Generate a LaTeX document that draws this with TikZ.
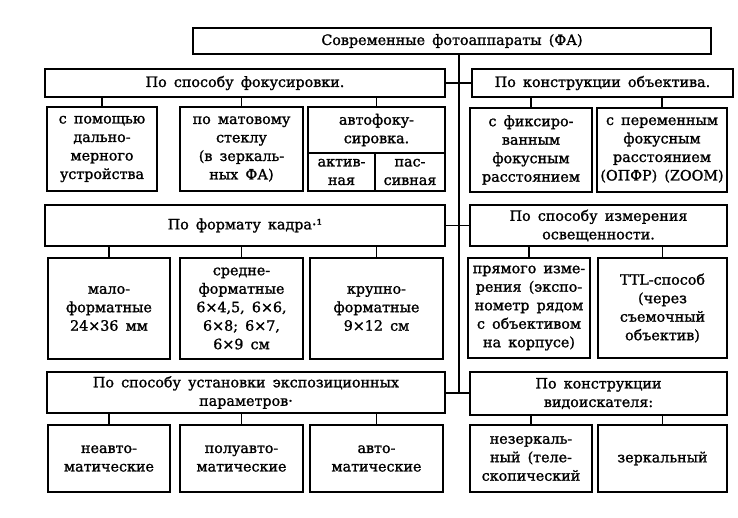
\documentclass[tikz,border=0pt]{standalone}
\usepackage{fontspec}
\setmainfont{DejaVu Serif}
\newfontfamily\diafont{DejaVu Serif}[FakeBold=1.3]
\newcommand\diafs{\diafont\fontsize{14.3}{18.5}\selectfont\spaceskip=0.5em plus 0.1em}
\begin{document}
\begin{tikzpicture}[x=1pt,y=-1pt,
  box/.style={draw, line width=1.9pt, align=center, inner sep=1pt, font=\diafs},
  txt/.style={align=center, inner sep=1pt, font=\diafs},
  ln/.style={line width=1.1pt},
  spine/.style={line width=1.9pt}]
\useasboundingbox[fill=white] (0,0) rectangle (738,517);
% top
\node[box, minimum width=518, minimum height=26] (top) at (452,41) {Современные фотоаппараты (ФА)};
% row 1 headers
\node[box, minimum width=400, minimum height=28] (h1l) at (245,83) {По способу фокусировки.};
\node[box, minimum width=261, minimum height=28] (h1r) at (602.5,83) {По конструкции объектива.};
% row 1 children left
\node[box, minimum width=110, minimum height=84] (a1) at (102,149) {с помощью\\дально-\\мерного\\устройства};
\node[box, minimum width=123, minimum height=84] (a2) at (241.5,149) {по матовому\\стеклу\\(в зеркаль-\\ных ФА)};
\node[box, minimum width=137, minimum height=84] (a3) at (376.5,149) {};
\node[txt] (a3t) at (376.5,130) {автофоку-\\сировка.};
\node[box, minimum width=67, minimum height=38] (a3a) at (341.5,172) {актив-\\ная};
\node[box, minimum width=70, minimum height=38] (a3b) at (410,172) {пас-\\сивная};
% row 1 children right
\node[box, minimum width=122, minimum height=84] (b1) at (531,150) {с фиксиро-\\ванным\\фокусным\\расстоянием};
\node[box, minimum width=130, minimum height=84] (b2) at (662,150) {с переменным\\фокусным\\расстоянием\\(ОПФР) (ZOOM)};
% row 2 headers
\node[box, minimum width=400, minimum height=41] (h2l) at (245,225.5) {По формату кадра·¹};
\node[box, minimum width=257, minimum height=41] (h2r) at (598.5,225.5) {По способу измерения\\освещенности.};
% row 2 children
\node[box, minimum width=122, minimum height=101] (c1) at (109,308.5) {мало-\\форматные\\24×36 мм};
\node[box, minimum width=123, minimum height=101] (c2) at (241.5,308.5) {средне-\\форматные\\6×4,5, 6×6,\\6×8; 6×7,\\6×9 см};
\node[box, minimum width=133, minimum height=101] (c3) at (376.5,308.5) {крупно-\\форматные\\9×12 см};
\node[box, minimum width=122, minimum height=100] (d1) at (529,308) {прямого изме-\\рения (экспо-\\нометр рядом\\с объективом\\на корпусе)};
\node[box, minimum width=129, minimum height=100] (d2) at (662.5,308) {TTL-способ\\(через\\съемочный\\объектив)};
% row 3 headers
\node[box, minimum width=398, minimum height=41] (h3l) at (246,392.5) {По способу установки экспозиционных\\параметров·};
\node[box, minimum width=257, minimum height=43] (h3r) at (598.5,393.5) {По конструкции\\видоискателя:};
% row 3 children
\node[box, minimum width=122, minimum height=67] (e1) at (109,458.5) {неавто-\\матические};
\node[box, minimum width=123, minimum height=67] (e2) at (241.5,458.5) {полуавто-\\матические};
\node[box, minimum width=133, minimum height=67] (e3) at (376.5,458.5) {авто-\\матические};
\node[box, minimum width=122, minimum height=67] (f1) at (531,458.5) {незеркаль-\\ный (теле-\\скопический};
\node[box, minimum width=129, minimum height=67] (f2) at (662.5,458.5) {зеркальный};
% spine
\coordinate (ctop) at (459,54);
\coordinate (cbot) at (459,393);
\draw[spine] (ctop) -- (cbot);
% header links
\draw[ln] (h1l.east) -- (h1r.west);
\draw[ln] (h2l.east) -- (h2l.east -| ctop);
\draw[ln] (h2r.west) -- (h2r.west -| ctop);
\draw[spine] (h3l.east |- cbot) -- (h3r.west |- cbot);
% child links
\foreach \p/\c in {h1l/a1,h1l/a2,h1l/a3,h1r/b1,h1r/b2,h2l/c1,h2l/c2,h2l/c3,h2r/d1,h2r/d2,h3l/e1,h3l/e2,h3l/e3,h3r/f1,h3r/f2}
  \draw[ln] (\c.north) -- (\c.north |- \p.south);
\end{tikzpicture}
\end{document}
